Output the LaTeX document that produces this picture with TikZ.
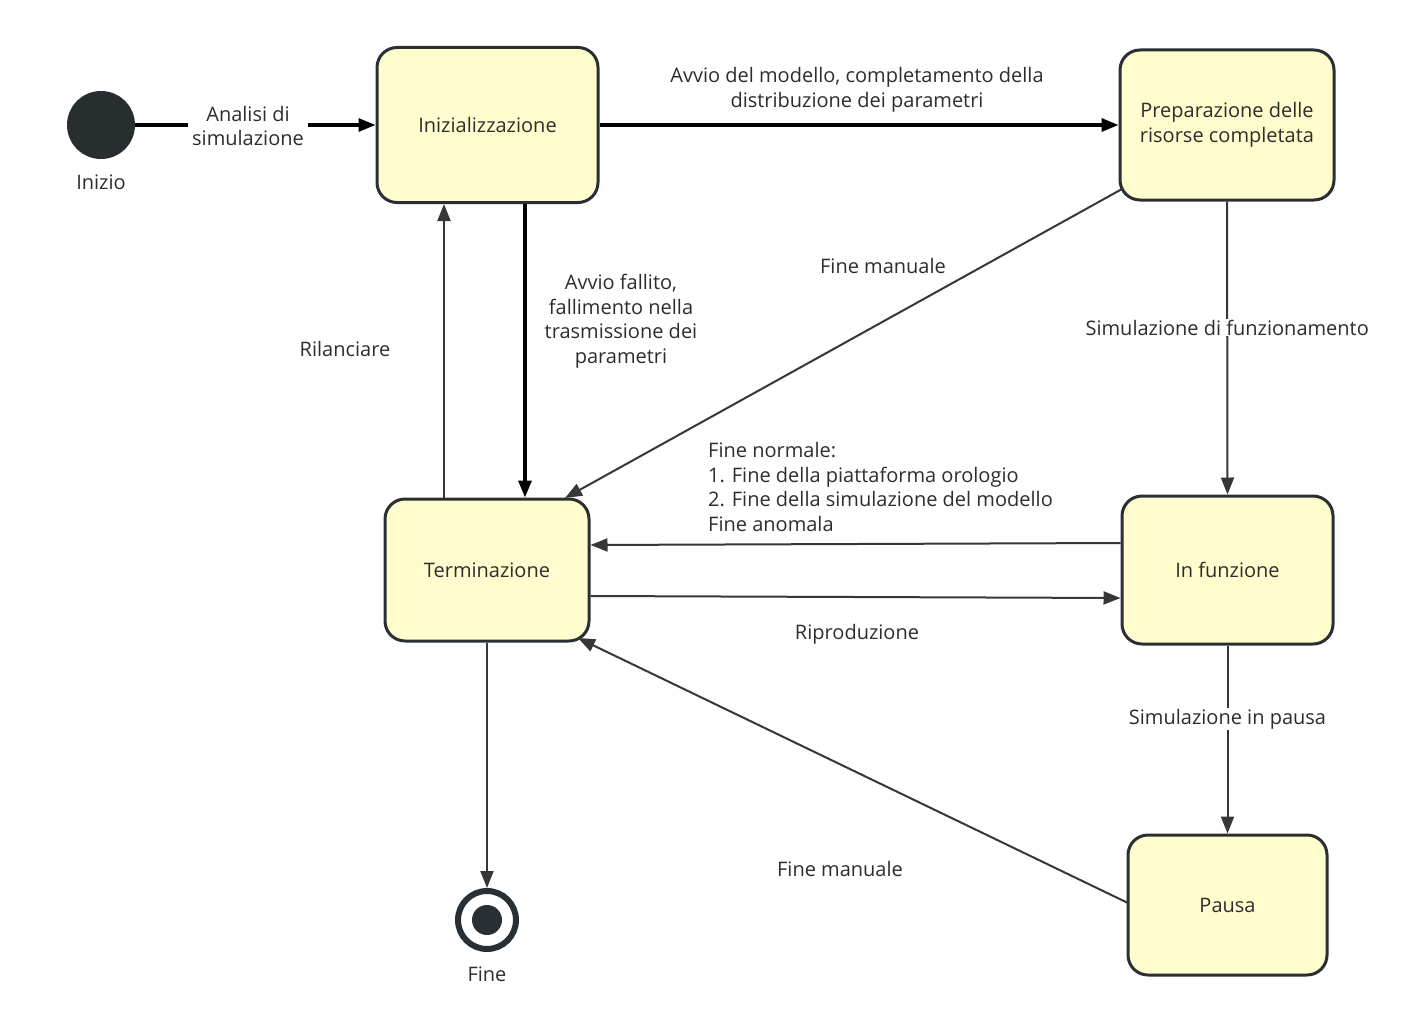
\documentclass[tikz,border=0pt]{standalone}
\usepackage{fontspec}
\setmainfont{Open Sans}
\usetikzlibrary{arrows.meta}
\definecolor{boxfill}{RGB}{255,253,205}
\definecolor{boxdraw}{RGB}{42,47,51}
\definecolor{txt}{RGB}{45,45,45}
\definecolor{graylink}{RGB}{55,55,55}
\begin{document}
\begin{tikzpicture}[x=1pt,y=-1pt,
  font=\fontsize{20}{24.5}\selectfont,
  state/.style={draw=boxdraw,line width=3pt,fill=boxfill,rounded corners=20pt,text=txt,align=center,inner sep=0pt},
  lbl/.style={text=txt,align=center,inner sep=1pt},
  strong/.style={draw=black,line width=3.2pt,-{Triangle[length=17pt,width=13pt]}},
  weak/.style={draw=graylink,line width=2pt,-{Triangle[length=17pt,width=13pt]}}
]
\useasboundingbox (0,0) rectangle (1407,1033);
% nodes
\node[circle,fill=boxdraw!95!black,minimum size=68pt,inner sep=0pt] (start) at (101,125) {};
\node[lbl] at (101,182) {Inizio};
\node[state,minimum width=221pt,minimum height=155pt] (init) at (487.5,125) {Inizializzazione};
\node[state,minimum width=214pt,minimum height=150pt] (prep) at (1227,125) {Preparazione delle\\risorse completata};
\node[state,minimum width=204pt,minimum height=142pt] (term) at (487,570) {Terminazione};
\node[state,minimum width=211pt,minimum height=148pt] (run) at (1227.5,570) {In funzione};
\node[state,minimum width=199pt,minimum height=140pt] (pause) at (1227.5,905) {Pausa};
\node[circle,draw=boxdraw,line width=6pt,fill=white,minimum size=58pt,inner sep=0pt] (end) at (487,920) {};
\node[circle,fill=boxdraw,minimum size=30pt,inner sep=0pt] at (end) {};
\node[lbl] at (487,974) {Fine};
% edges
\draw[strong] (start.east) -- (init.west);
\node[lbl,fill=white,inner xsep=4pt] at (248,126) {Analisi di\\simulazione};
\draw[strong] (init.east) -- (prep.west);
\node[lbl] at (857,90) {Avvio del modello, completamento della\\distribuzione dei parametri};
\draw[strong] (init.south -| 525,0) -- (term.north -| 525,0);
\node[lbl] at (621,321) {Avvio fallito,\\fallimento nella\\trasmissione dei\\parametri};
\draw[weak] (term.north -| 444,0) -- (init.south -| 444,0);
\node[lbl] at (345,349) {Rilanciare};
\draw[weak] (prep.south) -- (run.north) node[pos=0.43,fill=white,lbl,inner xsep=3pt] {Simulazione di funzionamento};
\coordinate (p1) at (1122,189);
\coordinate (t1) at (565,498);
\draw[weak] (p1) -- (t1);
\node[lbl] at (883,266) {Fine manuale};
\draw[weak] (run.west |- 0,543) -- (term.east |- 0,545);
\node[lbl,align=left,anchor=west] at (707,487) {Fine normale:\\1. Fine della piattaforma orologio\\2. Fine della simulazione del modello\\Fine anomala};
\draw[weak] (term.east |- 0,596) -- (run.west |- 0,598);
\node[lbl] at (857,634) {Riproduzione};
\draw[weak] (run.south) -- (pause.north) node[pos=0.39,fill=white,lbl,inner xsep=3pt] {Simulazione in pausa};
\coordinate (q1) at (1128,903);
\coordinate (t2) at (578,638);
\draw[weak] (q1) -- (t2);
\node[lbl] at (840,869) {Fine manuale};
\draw[weak] (term.south) -- (end.north);
\end{tikzpicture}
\end{document}
